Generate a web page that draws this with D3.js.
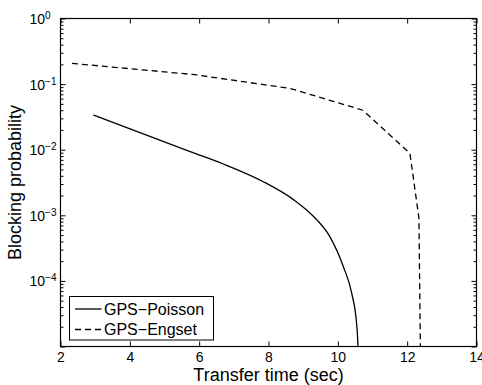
<!DOCTYPE html>
<html>
<head>
<meta charset="utf-8">
<script src="https://cdn.jsdelivr.net/npm/d3@7"></script>
<style>
  body { margin: 0; background: #fff; }
  text { font-family: "Liberation Sans", Arial, Helvetica, sans-serif; fill: #000; }
</style>
</head>
<body>
<div id="chart"></div>
<script>
// data
const poissonX = [2.95, 5.74, 6.70, 7.85, 8.71, 9.30, 9.77, 10.16, 10.40, 10.54, 10.58, 10.59];
const poissonY = [0.0338, 0.00933, 0.00605, 0.00325, 0.00175, 9.6e-4, 4.72e-4, 1.64e-4, 6.5e-5, 2.26e-5, 1e-5, 1e-6];
const engsetX = [2.33, 5.88, 8.62, 10.72, 12.08, 12.34, 12.38, 12.39];
const engsetY = [0.207, 0.139, 0.086, 0.040, 0.0088, 9e-4, 1e-5, 1e-6];
const xTicks = [2, 4, 6, 8, 10, 12, 14];
const yDecades = [-4, -3, -2, -1, 0];
const seriesNames = ["GPS\u2212Poisson", "GPS\u2212Engset"];

// layout
const width = 482, height = 385;
const margins = { top: 18.5, bottom: 38.5, left: 60.5, right: 5.5 };

const svg = d3.select('#chart').append('svg')
    .attr('width', width)
    .attr('height', height);

// scales
const xScale = d3.scaleLinear().domain([2, 14]).range([margins.left, width - margins.right]);
const yScale = d3.scaleLog().domain([1e-5, 1]).range([height - margins.bottom, margins.top]);

// clip
svg.append('clipPath').attr('id', 'plot-clip')
    .append('rect')
    .attr('x', margins.left).attr('y', margins.top)
    .attr('width', xScale(14) - xScale(2))
    .attr('height', yScale(1e-5) - yScale(1));

// minor ticks for the log axis
const minorVals = [];
for (let d = -5; d < 0; d++) {
    for (let m = 2; m <= 9; m++) minorVals.push(m * Math.pow(10, d));
}
const majorVals = [1e-5].concat(yDecades.map(d => Math.pow(10, d)));

const axisG = svg.append('g').attr('class', 'axes');

// x axes (bottom with labels, top ticks only)
const xBottom = axisG.append('g')
    .attr('transform', `translate(0,${yScale(1e-5)})`)
    .call(d3.axisBottom(xScale).tickValues(xTicks).tickSize(-5).tickPadding(6).tickFormat(d3.format('d')));
const xTop = axisG.append('g')
    .attr('transform', `translate(0,${yScale(1)})`)
    .call(d3.axisTop(xScale).tickValues(xTicks).tickSize(-5).tickFormat(''));

// y axes major and minor, left and right
axisG.append('g')
    .attr('transform', `translate(${xScale(2)},0)`)
    .call(d3.axisLeft(yScale).tickValues(majorVals).tickSize(-5).tickFormat(''));
axisG.append('g')
    .attr('transform', `translate(${xScale(2)},0)`)
    .call(d3.axisLeft(yScale).tickValues(minorVals).tickSize(-3).tickFormat(''));
axisG.append('g')
    .attr('transform', `translate(${xScale(14)},0)`)
    .call(d3.axisRight(yScale).tickValues(majorVals).tickSize(-5).tickFormat(''));
axisG.append('g')
    .attr('transform', `translate(${xScale(14)},0)`)
    .call(d3.axisRight(yScale).tickValues(minorVals).tickSize(-3).tickFormat(''));

axisG.selectAll('.domain').remove();
axisG.selectAll('line').attr('stroke', '#000').attr('stroke-width', 1);
xBottom.selectAll('text').attr('font-size', 14).style('font-family', null);

// box
axisG.append('rect')
    .attr('x', xScale(2)).attr('y', yScale(1))
    .attr('width', xScale(14) - xScale(2))
    .attr('height', yScale(1e-5) - yScale(1))
    .attr('fill', 'none')
    .attr('stroke', '#000')
    .attr('stroke-width', 1.2);

// y tick labels 10^n
const yLabels = axisG.selectAll('.ylab')
    .data(yDecades)
    .join('text')
    .attr('class', 'ylab')
    .attr('x', 29.5)
    .attr('y', d => yScale(Math.pow(10, d)) + 5.5)
    .attr('font-size', 14);
yLabels.append('tspan').text('10');
yLabels.append('tspan')
    .attr('font-size', 10)
    .attr('dy', -5)
    .text(d => d === 0 ? '0' : '\u2212' + Math.abs(d));

// line generators: smooth solid curve, straight dashed segments
const smoothLine = d3.line()
    .curve(d3.curveMonotoneX)
    .x(d => xScale(d[0]))
    .y(d => yScale(d[1]));
const straightLine = d3.line()
    .x(d => xScale(d[0]))
    .y(d => yScale(d[1]));

const series = [
    { name: seriesNames[0], pts: d3.zip(poissonX, poissonY), dash: null, gen: smoothLine },
    { name: seriesNames[1], pts: d3.zip(engsetX, engsetY), dash: '6,4', gen: straightLine }
];

svg.append('g')
    .attr('clip-path', 'url(#plot-clip)')
    .selectAll('path')
    .data(series)
    .join('path')
    .attr('fill', 'none')
    .attr('stroke', '#000')
    .attr('stroke-width', 1.3)
    .attr('stroke-dasharray', d => d.dash)
    .attr('d', d => d.gen(d.pts));

// axis titles
svg.append('text')
    .attr('x', (xScale(2) + xScale(14)) / 2)
    .attr('y', 381)
    .attr('text-anchor', 'middle')
    .attr('font-size', 18)
    .text('Transfer time (sec)');

svg.append('text')
    .attr('transform', `translate(21,${(yScale(1) + yScale(1e-5)) / 2}) rotate(-90)`)
    .attr('text-anchor', 'middle')
    .attr('font-size', 18)
    .text('Blocking probability');

// legend
const legend = svg.append('g').attr('transform', 'translate(69.5,296.5)');
legend.append('rect')
    .attr('width', 144).attr('height', 43.5)
    .attr('fill', '#fff').attr('stroke', '#000').attr('stroke-width', 1);
const items = legend.selectAll('.item')
    .data(series)
    .join('g')
    .attr('class', 'item')
    .attr('transform', (d, i) => `translate(0,${12.5 + i * 20.5})`);
items.append('line')
    .attr('x1', 5.5).attr('x2', 32)
    .attr('stroke', '#000').attr('stroke-width', 1.3)
    .attr('stroke-dasharray', d => d.dash);
items.append('text')
    .attr('x', 34.5).attr('y', 5.8)
    .attr('font-size', 16)
    .text(d => d.name);
</script>
</body>
</html>
